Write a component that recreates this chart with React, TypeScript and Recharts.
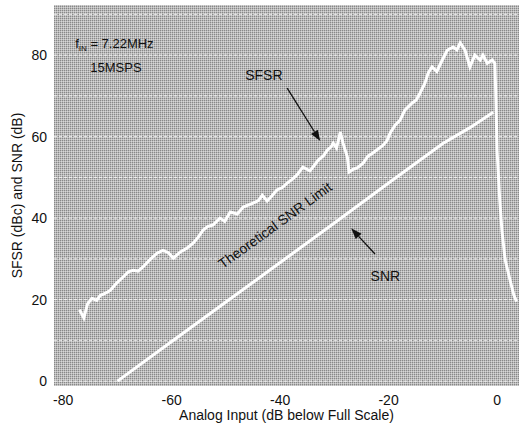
import {
  LineChart,
  Line,
  XAxis,
  YAxis,
  CartesianGrid,
  ReferenceDot,
  ReferenceLine,
} from "recharts";

// SFSR trace (dBc) against analog input (dB below full scale)
const sfsrInput = [
  -77.0, -76.2, -75.5, -74.7, -73.8, -73.2, -72.3, -71.3, -70.2, -68.9, -68.0, -67.1,
  -66.2, -65.3, -64.0, -62.7, -61.6, -60.6, -59.7, -58.4, -57.2, -56.0, -55.0, -54.2,
  -53.3, -52.4, -51.1, -50.2, -49.2, -47.9, -46.8, -45.0, -44.0, -43.3, -42.4, -41.5,
  -40.6, -39.6, -38.7, -37.8, -36.9, -35.8, -34.5, -33.8, -33.0, -32.0, -31.3, -30.6,
  -30.2, -29.6, -28.9, -28.4, -27.6, -27.3, -26.5, -25.8, -24.7, -23.8, -22.9, -21.0,
  -20.3, -19.7, -18.8, -17.9, -17.0, -15.7, -14.9, -14.2, -13.3, -12.7, -12.0, -11.1,
  -10.1, -9.2, -8.1, -7.4, -6.8, -5.9, -5.0, -4.1, -3.1, -2.6, -1.8, -0.9,
  -0.4, -0.2, 0.0, 0.5, 0.9, 1.5, 2.4, 3.1, 3.6,
];
const sfsrValues = [
  17.5, 15.5, 19.0, 20.3, 19.8, 21.0, 21.5, 22.3, 24.0, 25.6, 26.8, 27.2,
  27.0, 28.0, 29.8, 31.4, 32.1, 31.5, 30.2, 31.7, 32.6, 33.9, 35.5, 37.1,
  38.0, 38.3, 40.0, 39.2, 41.5, 41.0, 42.7, 43.7, 44.3, 45.6, 44.2, 45.5,
  46.9, 47.5, 48.6, 49.5, 50.6, 52.5, 51.6, 52.8, 54.2, 55.3, 56.7, 57.5,
  58.4, 57.2, 61.1, 58.4, 55.0, 51.3, 52.0, 52.3, 53.5, 55.2, 56.0, 57.9,
  59.0, 60.9, 62.8, 64.0, 66.5, 68.2, 69.0, 70.7, 73.1, 75.6, 77.1, 76.0,
  78.8, 81.2, 82.0, 81.3, 83.0, 81.2, 77.1, 80.0, 78.8, 80.0, 78.0, 78.8,
  78.0, 69.0, 56.7, 44.4, 37.0, 29.7, 24.8, 21.1, 19.5,
];

// SNR trace (dB)
const snrInput = [-70, -60, -50, -40, -30, -20, -10, -5, -0.7];
const snrValues = [0, 9.7, 19.4, 29.1, 38.8, 48.6, 58.3, 62.2, 66.0];

const xTicks = [-80, -60, -40, -20, 0];
const yTicks = [0, 20, 40, 60, 80];
const gridLevels = [0, 10, 20, 30, 40, 50, 60, 70, 80, 90];

const sfsrData = sfsrInput.map((x, i) => ({ x, y: sfsrValues[i] }));
const snrData = snrInput.map((x, i) => ({ x, y: snrValues[i] }));

const font = "'Liberation Sans', Arial, Helvetica, sans-serif";

const Arrow = (props: any) => {
  const { x1, y1, x2, y2 } = props;
  const a = Math.atan2(y2 - y1, x2 - x1);
  const len = 11;
  const w = 4;
  const bx = x2 - len * Math.cos(a);
  const by = y2 - len * Math.sin(a);
  const px = -Math.sin(a) * w;
  const py = Math.cos(a) * w;
  return (
    <g>
      <line x1={x1} y1={y1} x2={bx} y2={by} stroke="#111" strokeWidth={1.3} />
      <polygon
        points={`${x2},${y2} ${bx + px},${by + py} ${bx - px},${by - py}`}
        fill="#111"
      />
    </g>
  );
};

const note =
  (text: string, anchor: "start" | "middle" = "start", size = 13, angle = 0) =>
  (p: any) =>
    (
      <text
        x={p.cx}
        y={p.cy}
        textAnchor={anchor}
        fontSize={size}
        fontFamily={font}
        fill="#111"
        transform={angle ? `rotate(${angle}, ${p.cx}, ${p.cy})` : undefined}
      >
        {text}
      </text>
    );

const FinLabel = (p: any) => (
  <text x={p.cx} y={p.cy} fontSize={13} fontFamily={font} fill="#111">
    f
    <tspan fontSize={8} dy={3} fill="#111">
      IN
    </tspan>
    <tspan dy={-3} fill="#111">
      {" = 7.22MHz"}
    </tspan>
  </text>
);

export default function App() {
  return (
    <div style={{ position: "absolute", left: 0, top: 0, background: "#fff" }}>
      <LineChart
        width={519}
        height={429}
        margin={{ top: 5, right: 0, bottom: 0, left: 0 }}
      >
        <defs>
          <pattern id="halftone" width="2" height="2" patternUnits="userSpaceOnUse">
            <rect width="2" height="2" fill="#bababa" />
            <rect width="1" height="1" fill="#888888" />
            <rect x="1" y="1" width="1" height="1" fill="#d6d6d6" />
          </pattern>
        </defs>
        <CartesianGrid
          vertical={false}
          horizontalValues={gridLevels}
          fill="url(#halftone)"
          stroke="#ffffff"
          strokeOpacity={0.75}
          strokeDasharray="3 2"
        />
        <XAxis
          type="number"
          dataKey="x"
          domain={[-81.7, 4.05]}
          ticks={xTicks}
          allowDataOverflow
          height={43}
          axisLine={false}
          tickLine={false}
          tickSize={0}
          tickMargin={9}
          tick={{ fontSize: 14, fill: "#111", fontFamily: font }}
          label={{
            value: "Analog Input  (dB below Full Scale)",
            position: "insideBottom",
            offset: 9,
            fontSize: 14,
            fill: "#111",
            fontFamily: font,
          }}
        />
        <YAxis
          type="number"
          dataKey="y"
          domain={[-1.2, 92.3]}
          ticks={yTicks}
          allowDataOverflow
          width={54}
          axisLine={false}
          tickLine={false}
          tickSize={0}
          tickMargin={7}
          tick={{ fontSize: 14, fill: "#111", fontFamily: font }}
          label={{
            content: (p: any) => {
              const vb = p.viewBox;
              const cy = vb.y + vb.height / 2;
              return (
                <text
                  x={17}
                  y={cy}
                  textAnchor="middle"
                  dominantBaseline="central"
                  fontSize={14}
                  fontFamily={font}
                  fill="#111"
                  transform={`rotate(-90, 17, ${cy})`}
                >
                  SFSR (dBc) and SNR (dB)
                </text>
              );
            },
          }}
        />
        <Line
          data={snrData}
          dataKey="y"
          type="linear"
          stroke="#ffffff"
          strokeWidth={3}
          dot={false}
          isAnimationActive={false}
        />
        <Line
          data={sfsrData}
          dataKey="y"
          type="linear"
          stroke="#ffffff"
          strokeWidth={3}
          dot={false}
          isAnimationActive={false}
        />
        <ReferenceDot x={-77.8} y={81.7} r={0} shape={FinLabel} />
        <ReferenceDot x={-75.0} y={75.8} r={0} shape={note("15MSPS")} />
        <ReferenceDot x={-43.0} y={73.9} r={0} shape={note("SFSR", "middle", 14)} />
        <ReferenceDot x={-20.6} y={24.5} r={0} shape={note("SNR", "middle", 14)} />
        <ReferenceDot
          x={-40.4}
          y={37.3}
          r={0}
          shape={note("Theoretical SNR Limit", "middle", 14, -36)}
        />
        <ReferenceLine
          segment={[
            { x: -38.7, y: 71.9 },
            { x: -32.6, y: 58.9 },
          ]}
          shape={Arrow}
        />
        <ReferenceLine
          segment={[
            { x: -22.5, y: 31.2 },
            { x: -26.9, y: 37.5 },
          ]}
          shape={Arrow}
        />
      </LineChart>
    </div>
  );
}
